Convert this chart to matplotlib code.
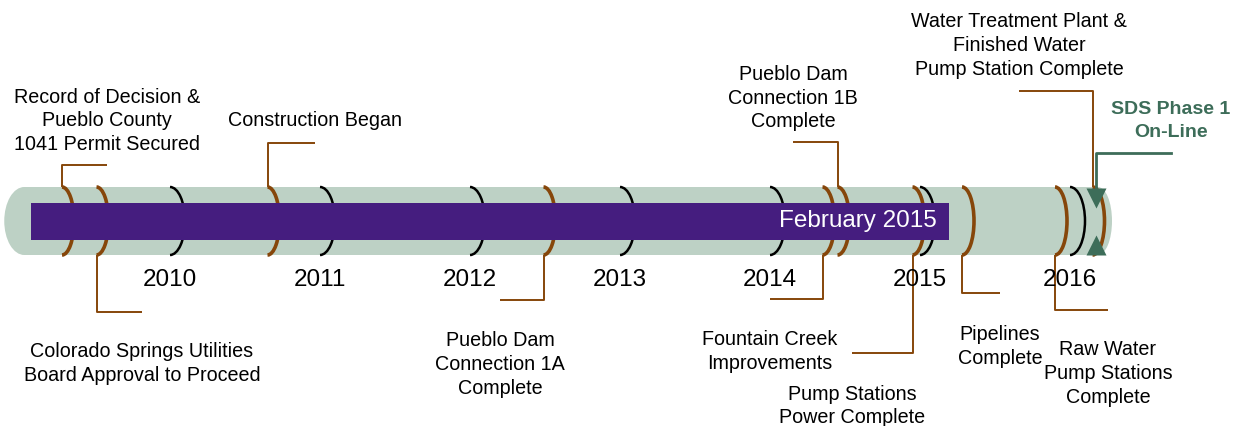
import matplotlib
matplotlib.use("Agg")
import matplotlib.pyplot as plt
from matplotlib.patches import Rectangle, Ellipse, Arc

# ---------------- data ----------------
years = [2010, 2011, 2012, 2013, 2014, 2015, 2016]
year_labels = ["2010", "2011", "2012", "2013", "2014", "2015", "2016"]

event_labels = [
    "Record of Decision &\nPueblo County\n1041 Permit Secured",
    "Colorado Springs Utilities\nBoard Approval to Proceed",
    "Construction Began",
    "Pueblo Dam\nConnection 1A\nComplete",
    "Fountain Creek\nImprovements",
    "Pueblo Dam\nConnection 1B\nComplete",
    "Pump Stations\nPower Complete",
    "Pipelines\nComplete",
    "Raw Water\nPump Stations\nComplete",
    "Water Treatment Plant &\nFinished Water\nPump Station Complete",
]
event_dates = [2009.28, 2009.51, 2010.65, 2012.49, 2014.35,
               2014.45, 2014.95, 2015.28, 2015.90, 2016.15]

timeline_start = 2008.895
timeline_end = 2016.28
progress_start = 2009.07
progress_end = 2015.19
progress_label = "February 2015"

online_label = "SDS Phase 1\nOn-Line"
online_date = 2016.17

# ---------------- layout ----------------
leader_levels = [56, -91, 78, -79, -78, 79, -132, -72, -89, 130]
label_x = [2009.58, 2009.813, 2010.967, 2012.2, 2014.0,
           2014.153, 2014.547, 2015.533, 2016.253, 2015.66]
label_y = [100, -142.5, 101, -143.5, -130.5, 123, -185, -125.5, -152.5, 175.5]
online_leader_level = 68
online_label_x = 2016.673
online_label_y = 100
year_label_y = -59.5

PX = 150.0          # pixels per year
H = 34              # tube half height
PH = 18.5           # progress bar half height

tube_c = "#BDD1C5"
purple = "#451D7F"
brown = "#86460A"
green = "#3D6D59"
font = "Liberation Sans"

fig = plt.figure(figsize=(12.37, 4.26), dpi=100)
ax = fig.add_axes([0, 0, 1, 1])
ax.set_xlim(2010 - 170 / PX, 2010 + 1067 / PX)
ax.set_ylim(-205, 221)
ax.axis("off")

# tube
lcap, rcap = 20 / PX, 14 / PX
ax.add_patch(Rectangle((timeline_start + lcap, -H), (timeline_end - rcap) - (timeline_start + lcap), 2 * H,
                       facecolor=tube_c, edgecolor="none", zorder=1))
ax.add_patch(Ellipse((timeline_start + lcap, 0), 2 * lcap, 2 * H, facecolor=tube_c, edgecolor="none", zorder=1))
ax.add_patch(Ellipse((timeline_end - rcap, 0), 2 * rcap, 2 * H, facecolor=tube_c, edgecolor="none", zorder=1))

# year rings
for y, lab in zip(years, year_labels):
    ax.add_patch(Arc((y, 0), 30 / PX, 2 * H, theta1=-90, theta2=90, color="black", lw=1.8, zorder=2))
    ax.text(y, year_label_y, lab, ha="center", va="center", fontsize=17.5, family=font, color="black", zorder=5)

# event rings + leaders + labels
for lab, d, lev, lx, ly in zip(event_labels, event_dates, leader_levels, label_x, label_y):
    ax.add_patch(Arc((d, 0), 24 / PX, 2 * H, theta1=-90, theta2=90, color=brown, lw=2.6, zorder=2.5))
    start = H if lev > 0 else -H
    ax.plot([d, d, lx], [start, lev, lev], color=brown, lw=1.4, zorder=4, solid_capstyle="butt")
    ax.text(lx, ly, lab, ha="center", va="center", multialignment="center",
            fontsize=14.2, family=font, color="black", linespacing=1.32, zorder=5)

# progress bar
ax.add_patch(Rectangle((progress_start, -PH), progress_end - progress_start, 2 * PH,
                       facecolor=purple, edgecolor="none", zorder=3))
ax.text(progress_end - 12 / PX, 0, progress_label, ha="right", va="center",
        fontsize=17.5, family=font, color="white", zorder=5)

# on-line marker
ax.plot([online_date], [H - 10.5], marker="v", ms=14.4, color=green, mec="none", zorder=6)
ax.plot([online_date], [-H + 10.5], marker="^", ms=14.4, color=green, mec="none", zorder=6)
ax.plot([online_date, online_date, online_label_x], [H, online_leader_level, online_leader_level],
        color=green, lw=2.0, zorder=6)
ax.text(online_label_x, online_label_y, online_label, ha="center", va="center", multialignment="center",
        fontsize=14, family=font, fontweight="bold", color=green, linespacing=1.45, zorder=6)

fig.savefig("out.png", dpi=100)
